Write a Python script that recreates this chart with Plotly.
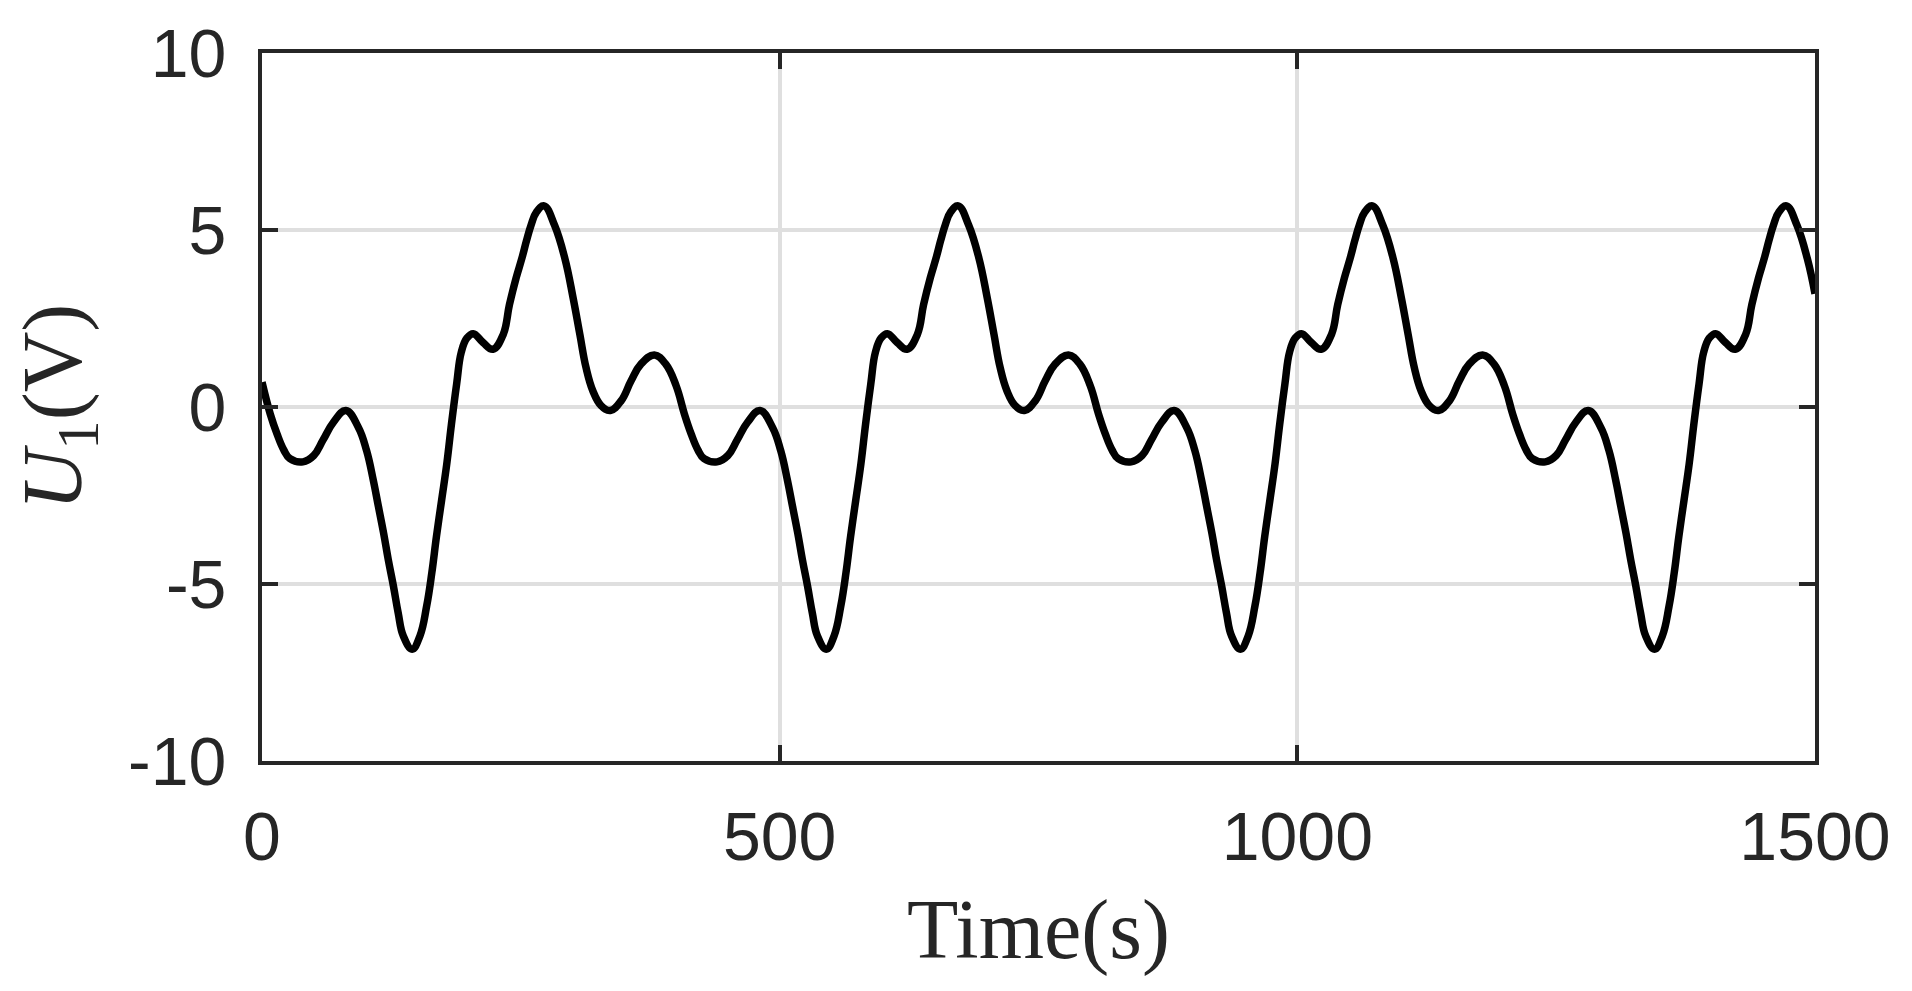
import plotly.graph_objects as go

# Time axis (s) and signal U1 (V)
time_s = [
    0, 8, 14.5, 21, 27, 39.5, 50, 59, 69, 81, 93, 101, 107.5, 112.5, 117.5, 122, 127, 131.5, 136.5,
    145, 152.5, 159, 164, 168.5, 173.5, 178.5, 183, 188, 192.5, 198, 204, 213.5, 223, 233, 239, 245.5,
    251, 255.5, 260, 265, 272.5, 282.5, 292.5, 300.5, 307, 313, 319.5, 327.5, 336.5, 347, 356.5, 366,
    379, 390,
    400, 408, 414.5, 421, 427, 439.5, 450, 459, 469, 481, 493, 501, 507.5, 512.5, 517.5, 522, 527,
    531.5, 536.5, 545, 552.5, 559, 564, 568.5, 573.5, 578.5, 583, 588, 592.5, 598, 604, 613.5, 623,
    633, 639, 645.5, 651, 655.5, 660, 665, 672.5, 682.5, 692.5, 700.5, 707, 713, 719.5, 727.5, 736.5,
    747, 756.5, 766, 779, 790,
    800, 808, 814.5, 821, 827, 839.5, 850, 859, 869, 881, 893, 901, 907.5, 912.5, 917.5, 922, 927,
    931.5, 936.5, 945, 952.5, 959, 964, 968.5, 973.5, 978.5, 983, 988, 992.5, 998, 1004, 1013.5, 1023,
    1033, 1039, 1045.5, 1051, 1055.5, 1060, 1065, 1072.5, 1082.5, 1092.5, 1100.5, 1107, 1113, 1119.5,
    1127.5, 1136.5, 1147, 1156.5, 1166, 1179, 1190,
    1200, 1208, 1214.5, 1221, 1227, 1239.5, 1250, 1259, 1269, 1281, 1293, 1301, 1307.5, 1312.5,
    1317.5, 1322, 1327, 1331.5, 1336.5, 1345, 1352.5, 1359, 1364, 1368.5, 1373.5, 1378.5, 1383, 1388,
    1392.5, 1398, 1404, 1413.5, 1423, 1433, 1439, 1445.5, 1451, 1455.5, 1460, 1465, 1472.5, 1482.5,
    1492.5, 1500,
]

u1_v = [
    0.70, -0.20, -0.76, -1.21, -1.46, -1.55, -1.37, -0.93, -0.43, -0.10, -0.57, -1.23, -2.07, -2.82,
    -3.57, -4.32, -5.07, -5.81, -6.47, -6.84, -6.47, -5.63, -4.69, -3.66, -2.63, -1.60, -0.48, 0.65,
    1.55, 1.95, 2.07, 1.82, 1.63, 2.05, 2.89, 3.65, 4.20, 4.70, 5.15, 5.50, 5.68, 5.14, 4.20, 3.08,
    2.05, 1.11, 0.46, 0.04, -0.10, 0.18, 0.74, 1.21, 1.47, 1.21,
    0.60, -0.20, -0.76, -1.21, -1.46, -1.55, -1.37, -0.93, -0.43, -0.10, -0.57, -1.23, -2.07, -2.82,
    -3.57, -4.32, -5.07, -5.81, -6.47, -6.84, -6.47, -5.63, -4.69, -3.66, -2.63, -1.60, -0.48, 0.65,
    1.55, 1.95, 2.07, 1.82, 1.63, 2.05, 2.89, 3.65, 4.20, 4.70, 5.15, 5.50, 5.68, 5.14, 4.20, 3.08,
    2.05, 1.11, 0.46, 0.04, -0.10, 0.18, 0.74, 1.21, 1.47, 1.21,
    0.60, -0.20, -0.76, -1.21, -1.46, -1.55, -1.37, -0.93, -0.43, -0.10, -0.57, -1.23, -2.07, -2.82,
    -3.57, -4.32, -5.07, -5.81, -6.47, -6.84, -6.47, -5.63, -4.69, -3.66, -2.63, -1.60, -0.48, 0.65,
    1.55, 1.95, 2.07, 1.82, 1.63, 2.05, 2.89, 3.65, 4.20, 4.70, 5.15, 5.50, 5.68, 5.14, 4.20, 3.08,
    2.05, 1.11, 0.46, 0.04, -0.10, 0.18, 0.74, 1.21, 1.47, 1.21,
    0.60, -0.20, -0.76, -1.21, -1.46, -1.55, -1.37, -0.93, -0.43, -0.10, -0.57, -1.23, -2.07, -2.82,
    -3.57, -4.32, -5.07, -5.81, -6.47, -6.84, -6.47, -5.63, -4.69, -3.66, -2.63, -1.60, -0.48, 0.65,
    1.55, 1.95, 2.07, 1.82, 1.63, 2.05, 2.89, 3.65, 4.20, 4.70, 5.15, 5.50, 5.68, 5.14, 4.20, 3.20,
]

x_tickvals = [0, 500, 1000, 1500]
x_ticktext = ["0", "500", "1000", "1500"]
y_tickvals = [-10, -5, 0, 5, 10]
y_ticktext = ["-10", "-5", "0", "5", "10"]

x_title = "Time(s)"
y_title = "<i>U</i><sub>1</sub>(V)"

axis_color = "#262626"
grid_color = "#dfdfdf"

fig = go.Figure()
fig.add_trace(go.Scatter(
    x=time_s, y=u1_v, mode="lines",
    line=dict(color="black", width=7.5, shape="spline", smoothing=1.2),
    hoverinfo="skip",
))

common_axis = dict(
    showline=True, linecolor=axis_color, linewidth=4, mirror="ticks",
    ticks="inside", ticklen=16, tickwidth=4, tickcolor=axis_color,
    showgrid=True, gridcolor=grid_color, gridwidth=3.5, zeroline=False,
    tickfont=dict(family="Liberation Sans, Arial, sans-serif", size=68, color=axis_color),
)

fig.update_xaxes(
    range=[0, 1500], tickmode="array", tickvals=x_tickvals, ticktext=x_ticktext,
    ticklabelstandoff=13,
    title=dict(text=x_title, font=dict(family="Liberation Serif, serif", size=84, color=axis_color), standoff=28),
    **common_axis,
)
fig.update_yaxes(
    range=[-10, 10], tickmode="array", tickvals=y_tickvals, ticktext=y_ticktext,
    ticklabelstandoff=18,
    title=dict(text=y_title, font=dict(family="Liberation Serif, serif", size=84, color=axis_color), standoff=20),
    **common_axis,
)

fig.update_layout(
    width=1912, height=991,
    margin=dict(l=262, r=97, t=53, b=230, autoexpand=False),
    plot_bgcolor="white", paper_bgcolor="white",
    showlegend=False,
)

fig.write_html("out.html", config={"displayModeBar": False},
               post_script="document.body.style.margin='0px';")
